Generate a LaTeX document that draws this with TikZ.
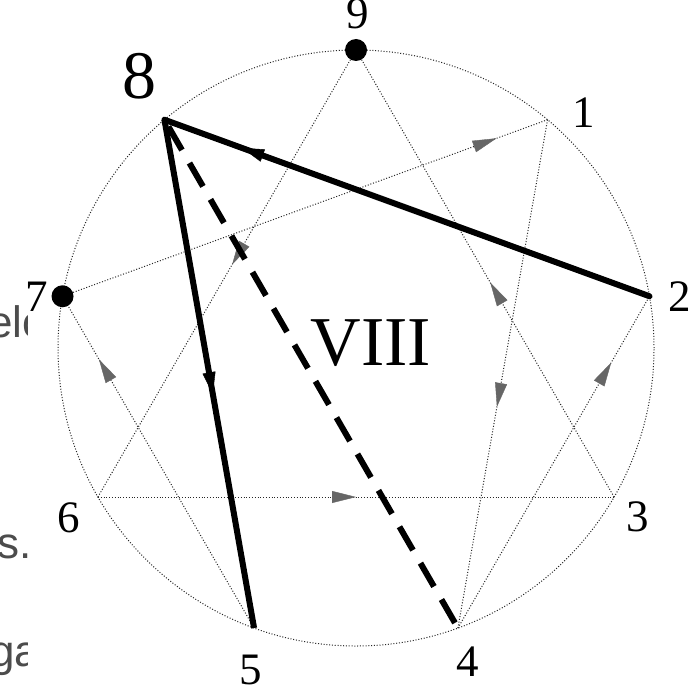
\documentclass[tikz,border=0pt]{standalone}
\usepackage{fontspec}
\setmainfont{Liberation Serif}
\newfontfamily\bgfont{Liberation Sans}
\usetikzlibrary{arrows.meta,decorations.markings}
\tikzset{
  dotline/.style={line width=1pt, dash pattern=on 1pt off 1.8pt, black!85},
  boldline/.style={line width=6pt, black},
  dashline/.style={line width=6pt, black, dash pattern=on 27pt off 15pt, dash phase=34pt},
  garrow/.style={postaction={decorate,decoration={markings,
     mark=at position #1 with {\arrow{Triangle[length=24pt,width=12pt,line width=0.4pt,color=black!60,fill=black!60]}}}}},
  barrow/.style={postaction={decorate,decoration={markings,
     mark=at position #1 with {\arrow{Triangle[length=22pt,width=13pt,line width=0.4pt,color=black,fill=black]}}}}},
  numlabel/.style={inner sep=0pt, font=\fontsize{45}{45}\selectfont},
  biglabel/.style={inner sep=0pt, font=\fontsize{68}{68}\selectfont},
  bgtext/.style={anchor=base west, inner sep=0pt, text=black!70, font=\bgfont\fontsize{44}{44}\selectfont},
  dotmark/.style={fill=black}
}
\begin{document}
\begin{tikzpicture}[x=1pt,y=-1pt]
\useasboundingbox[fill=white] (0,0) rectangle (692,690);
% background text fragments
\begin{scope}
\clip (0,0) rectangle (27,690);
\node[bgtext] (bg1) at (-12,337) {elo};
\node[bgtext] (bg2) at (-3,558) {s.};
\node[bgtext] (bg3) at (-10,666) {ga};
\end{scope}
% points
\foreach \i in {1,...,9}{
  \coordinate (p\i) at ({356+298*sin(40*\i)},{348-298*cos(40*\i)});
}
\coordinate (c) at (356,348);
% circle
\draw[dotline] (c) circle[radius=298pt];
% inner figure
\draw[dotline, garrow=0.48] (p9) -- (p6);
\draw[dotline, garrow=0.5] (p6) -- (p3);
\draw[dotline, garrow=0.48] (p3) -- (p9);
\draw[dotline, garrow=0.565] (p1) -- (p4);
\draw[dotline, garrow=0.8] (p4) -- (p2);
\draw[dotline, garrow=0.81] (p5) -- (p7);
\draw[dotline, garrow=0.895] (p7) -- (p1);
% bold lines
\draw[dashline] (p8) -- (p4);
\draw[boldline, line cap=round, barrow=0.84] (p2) -- (p8);
\draw[boldline, barrow=0.54] (p8) -- (p5);
% dots
\fill[dotmark] (p9) circle[radius=11pt];
\fill[dotmark] (p7) circle[radius=11pt];
% labels
\node[numlabel] (l9) at (358,14) {9};
\node[biglabel] (l8) at (139,76) {8};
\node[numlabel] (l1) at (584,113) {1};
\node[numlabel] (l2) at (680,297) {2};
\node[numlabel] (l3) at (638,517) {3};
\node[numlabel] (l4) at (468,662) {4};
\node[numlabel] (l5) at (251,670) {5};
\node[numlabel] (l6) at (69,518) {6};
\node[numlabel] (l7) at (37,297) {7};
\node[inner sep=0pt, font=\fontsize{70}{70}\selectfont] (roman) at (371,343) {VIII};
\end{tikzpicture}
\end{document}
